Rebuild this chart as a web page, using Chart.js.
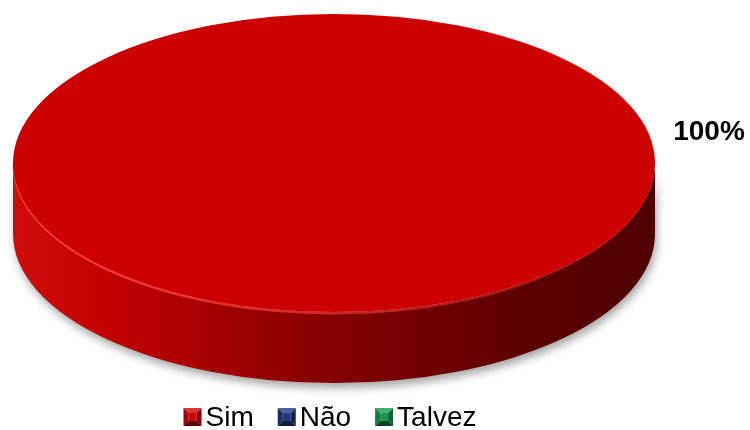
<!DOCTYPE html>
<html>
<head>
<meta charset="utf-8">
<script src="https://cdn.jsdelivr.net/npm/chart.js@4/dist/chart.umd.min.js"></script>
<style>
  html, body { margin: 0; padding: 0; background: #fff; }
  #wrap { width: 750px; height: 430px; }
</style>
</head>
<body>
<div id="wrap"><canvas id="pieChart"></canvas></div>
<script>
	/* Chart data */
	var labels = ['Sim', 'Não', 'Talvez'];
	var values = [100, 0, 0];
	var colours = ['#cc0000', '#1c3a7c', '#169a4e'];

	// 3D look: vertical squash of the pie and thickness of the disc
	var TILT = 149 / 321;
	var DEPTH = 71;
	var FONT = '"Liberation Sans", Arial, sans-serif';

	function mix(hex, target, f) {
		var n = parseInt(hex.slice(1), 16);
		var r = (n >> 16) & 255, g = (n >> 8) & 255, b = n & 255;
		r = Math.round(r + (target - r) * f);
		g = Math.round(g + (target - g) * f);
		b = Math.round(b + (target - b) * f);
		return 'rgb(' + r + ',' + g + ',' + b + ')';
	}

	function geometry(chart) {
		var area = chart.chartArea;
		var rx = (area.right - area.left) / 2;
		var ry = rx * TILT;
		return { cx: (area.left + area.right) / 2, cy: area.top + ry, rx: rx, ry: ry };
	}

	/* Draws the pie as a tilted disc: side wall first, then the top faces */
	var pie3d = {
		id: 'pie3d',
		beforeDatasetsDraw: function(chart) {
			var ctx = chart.ctx;
			var meta = chart.getDatasetMeta(0);
			var geo = geometry(chart);
			var cx = geo.cx, cy = geo.cy, rx = geo.rx, ry = geo.ry;

			meta.data.forEach(function(arc, i) {
				if (!values[i]) return;
				var s = arc.startAngle, e = arc.endAngle;
				[-2 * Math.PI, 0, 2 * Math.PI].forEach(function(k) {
					var lo = Math.max(s, k), hi = Math.min(e, Math.PI + k);
					if (hi <= lo) return;
					var g = ctx.createLinearGradient(cx - rx, 0, cx + rx, 0);
					g.addColorStop(0, mix(colours[i], 255, 0.05));
					g.addColorStop(0.15, mix(colours[i], 0, 0.05));
					g.addColorStop(0.45, mix(colours[i], 0, 0.32));
					g.addColorStop(0.8, mix(colours[i], 0, 0.55));
					g.addColorStop(1, mix(colours[i], 0, 0.62));
					ctx.save();
					ctx.beginPath();
					ctx.ellipse(cx, cy, rx, ry, 0, lo - k, hi - k);
					ctx.ellipse(cx, cy + DEPTH, rx, ry, 0, hi - k, lo - k, true);
					ctx.closePath();
					ctx.shadowColor = 'rgba(0,0,0,0.35)';
					ctx.shadowBlur = 8;
					ctx.shadowOffsetX = 2;
					ctx.shadowOffsetY = 5;
					ctx.fillStyle = g;
					ctx.fill();
					ctx.restore();

					// light rim where the top face meets the wall
					var rim = ctx.createLinearGradient(cx - rx, 0, cx + rx, 0);
					rim.addColorStop(0, 'rgba(255,70,70,0.9)');
					rim.addColorStop(0.6, 'rgba(255,70,70,0.5)');
					rim.addColorStop(1, 'rgba(255,70,70,0)');
					ctx.save();
					ctx.beginPath();
					ctx.ellipse(cx, cy + 1, rx - 1, ry, 0, lo - k, hi - k);
					ctx.strokeStyle = rim;
					ctx.lineWidth = 3;
					ctx.stroke();
					ctx.restore();
				});
			});

			meta.data.forEach(function(arc, i) {
				if (!values[i]) return;
				var sx = rx / arc.outerRadius, sy = ry / arc.outerRadius;
				ctx.save();
				ctx.translate(cx, cy);
				ctx.scale(sx, sy);
				ctx.translate(-arc.x, -arc.y);
				arc.draw(ctx);
				ctx.restore();
			});
			return false;
		},
		afterDraw: function(chart) {
			var ctx = chart.ctx;
			var geo = geometry(chart);

			// value label to the right of the disc
			ctx.save();
			ctx.font = 'bold 28px ' + FONT;
			ctx.fillStyle = '#000';
			ctx.textAlign = 'center';
			ctx.textBaseline = 'middle';
			values.forEach(function(v, i) {
				if (v === 100) ctx.fillText(v + '%', geo.cx + geo.rx + 54, geo.cy - 31);
			});
			ctx.restore();

			// legend row under the disc
			ctx.save();
			ctx.font = '28px ' + FONT;
			var box = 18, gapText = 4, gapItem = 24;
			var total = 0;
			labels.forEach(function(l, i) {
				total += box + gapText + ctx.measureText(l).width + (i < labels.length - 1 ? gapItem : 0);
			});
			var x = geo.cx - 4 - total / 2, y = 417;
			labels.forEach(function(l, i) {
				bevelBox(ctx, x, y - box / 2, box, colours[i]);
				x += box + gapText;
				ctx.fillStyle = '#000';
				ctx.textBaseline = 'middle';
				ctx.fillText(l, x, y + 1);
				x += ctx.measureText(l).width + gapItem;
			});
			ctx.restore();
		}
	};

	function bevelBox(ctx, x, y, s, col) {
		var m = s * 0.28;
		function poly(pts, fill) {
			ctx.beginPath();
			ctx.moveTo(pts[0], pts[1]);
			for (var j = 2; j < pts.length; j += 2) ctx.lineTo(pts[j], pts[j + 1]);
			ctx.closePath();
			ctx.fillStyle = fill;
			ctx.fill();
		}
		poly([x, y, x + s, y, x + s - m, y + m, x + m, y + m], mix(col, 255, 0.2));
		poly([x, y, x + m, y + m, x + m, y + s - m, x, y + s], mix(col, 0, 0.2));
		poly([x + s, y, x + s, y + s, x + s - m, y + s - m, x + s - m, y + m], mix(col, 0, 0.35));
		poly([x, y + s, x + m, y + s - m, x + s - m, y + s - m, x + s, y + s], mix(col, 0, 0.55));
		ctx.fillStyle = col;
		ctx.fillRect(x + m, y + m, s - 2 * m, s - 2 * m);
	}

	var ctx = document.getElementById('pieChart');
	var pieChart = new Chart(ctx, {
		type: 'pie',
		data: {
			labels: labels,
			datasets: [{
				data: values,
				backgroundColor: colours,
				borderWidth: 0
			}]
		},
		options: {
			responsive: true,
			maintainAspectRatio: false,
			animation: false,
			layout: {
				padding: { left: 13, right: 95, top: 14, bottom: 60 }
			},
			plugins: {
				legend: { display: false },
				tooltip: { enabled: false }
			}
		},
		plugins: [pie3d]
	});
</script>
</body>
</html>
